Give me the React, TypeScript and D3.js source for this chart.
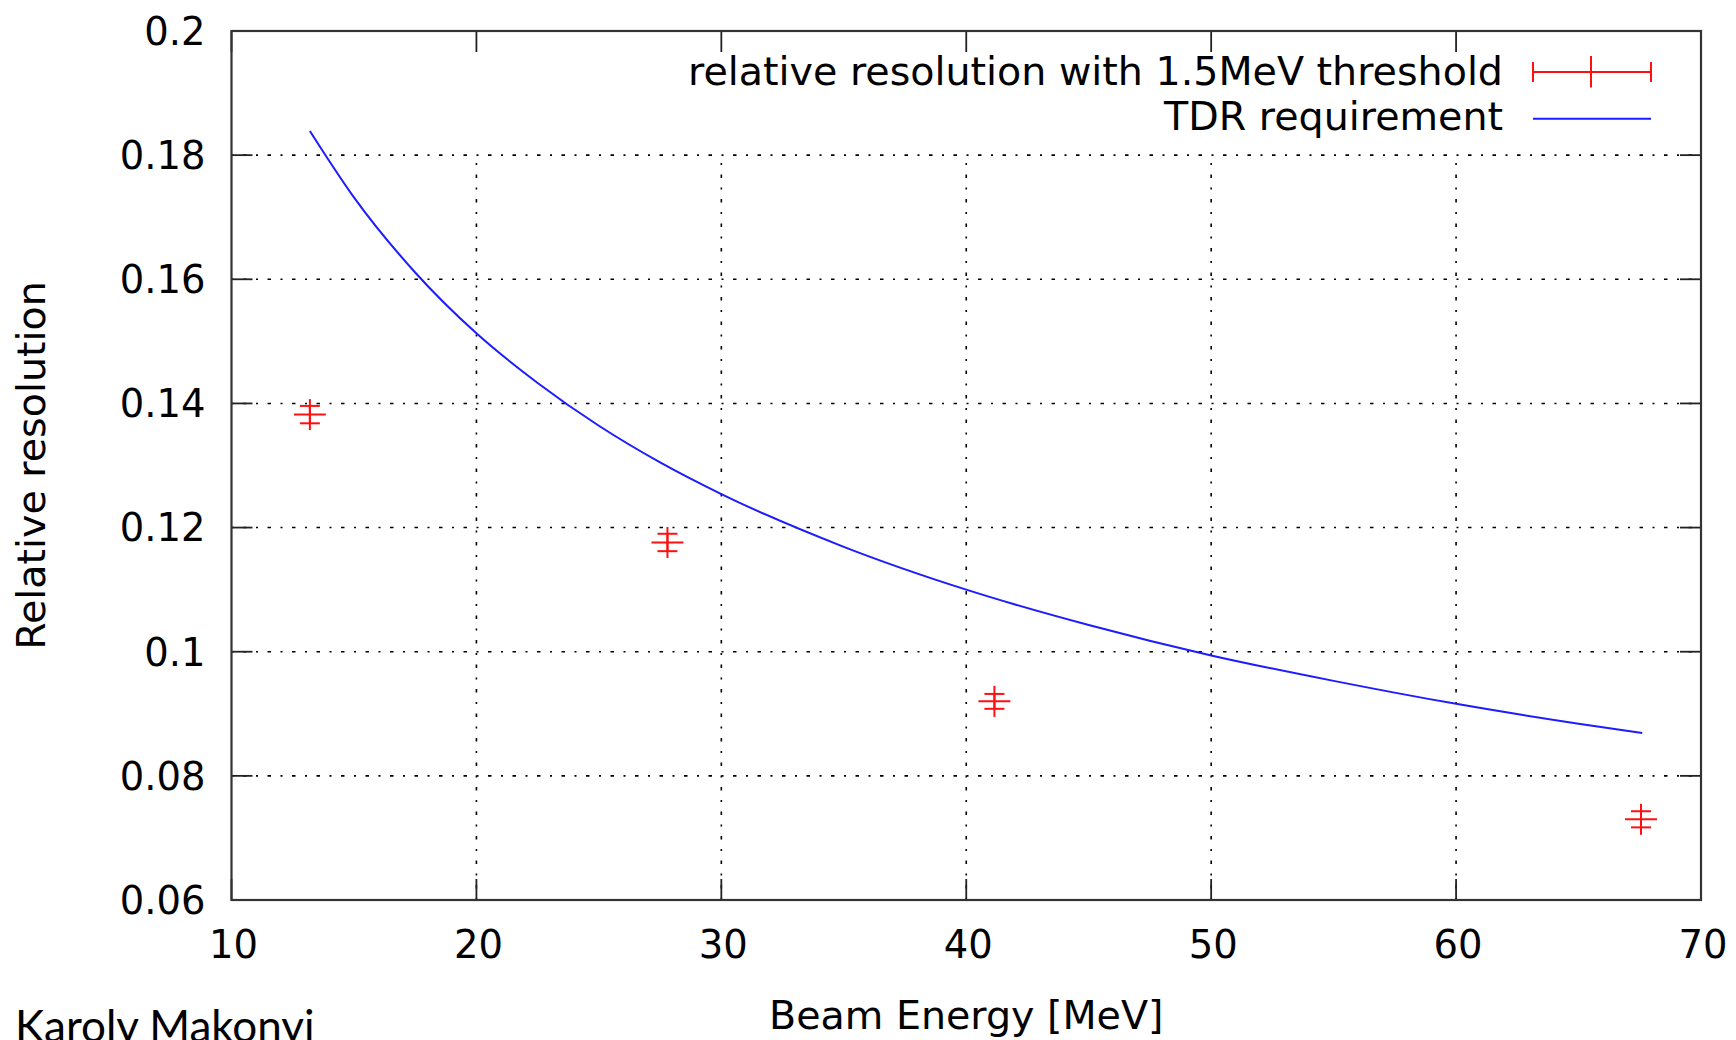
import React from 'react';
import * as d3 from 'd3';

// measured points (beam energy in MeV, relative resolution, error)
const beamEnergy = [13.2, 27.8, 41.15, 67.55];
const resolution = [0.1382, 0.1176, 0.092, 0.073];
const resolutionErr = [0.0014, 0.0014, 0.0012, 0.0013];

// TDR requirement curve
const tdrEnergy = [13.2, 15, 17.5, 20, 22.5, 25, 27.5, 30, 35, 40, 45, 50, 55, 60, 65, 67.6];
const tdrValue = [0.1839, 0.1732, 0.1611, 0.1513, 0.1433, 0.1364, 0.1305, 0.1254, 0.1169, 0.11, 0.1043, 0.0994, 0.0953, 0.0916, 0.0884, 0.0869];

const xTicks = [10, 20, 30, 40, 50, 60, 70];
const yTicks = [0.06, 0.08, 0.1, 0.12, 0.14, 0.16, 0.18, 0.2];

const legendLabels = ['relative resolution with 1.5MeV threshold', 'TDR requirement'];

const W = 1736;
const H = 1040;
const margin = { top: 31, right: 35, bottom: 140, left: 231.5 };

const App = () => {
    const x = d3.scaleLinear().domain([10, 70]).range([margin.left, W - margin.right]);
    const y = d3.scaleLinear().domain([0.06, 0.2]).range([H - margin.bottom, margin.top]);

    const x0 = x.range()[0], x1 = x.range()[1];
    const y0 = y.range()[0], y1 = y.range()[1];
    const tickLen = 21;
    const font = "'DejaVu Sans', sans-serif";
    const gridDash = '2,9.5,3.5,9.5';
    const labelSize = 39.6;

    const line = d3.line<number>()
        .x((d, i) => x(tdrEnergy[i]))
        .y(d => y(d))
        .curve(d3.curveMonotoneX);

    const red = '#ff1010';
    const blue = '#1c1cff';

    return (
        <svg width={W} height={H} style={{ position: 'absolute', left: 0, top: 0, background: '#fff' }}>
            {/* grid */}
            {yTicks.slice(1, -1).map(t => (
                <line key={'gy' + t} x1={x0} x2={x1} y1={y(t)} y2={y(t)}
                    stroke="#000" strokeWidth={1.6} strokeDasharray={gridDash} />
            ))}
            {xTicks.slice(1, -1).map(t => (
                <line key={'gx' + t} x1={x(t)} x2={x(t)} y1={y0} y2={y(0.18)}
                    stroke="#000" strokeWidth={1.6} strokeDasharray={gridDash} />
            ))}

            {/* ticks on all four sides */}
            {yTicks.map(t => (
                <g key={'ty' + t} stroke="#222" strokeWidth={1.8}>
                    <line x1={x0} x2={x0 + tickLen} y1={y(t)} y2={y(t)} />
                    <line x1={x1} x2={x1 - tickLen} y1={y(t)} y2={y(t)} />
                </g>
            ))}
            {xTicks.map(t => (
                <g key={'tx' + t} stroke="#222" strokeWidth={1.8}>
                    <line x1={x(t)} x2={x(t)} y1={y0} y2={y0 - tickLen} />
                    <line x1={x(t)} x2={x(t)} y1={y1} y2={y1 + tickLen} />
                </g>
            ))}

            {/* frame */}
            <rect x={x0} y={y1} width={x1 - x0} height={y0 - y1} fill="none" stroke="#333" strokeWidth={2.2} />

            {/* tick labels */}
            {yTicks.map(t => (
                <text key={'ly' + t} x={x0 - 26} y={y(t)} dy="0.36em" textAnchor="end"
                    fontFamily={font} fontSize={38.5} fill="#000">{d3.format('~g')(t)}</text>
            ))}
            {xTicks.map(t => (
                <text key={'lx' + t} x={x(t) + 2} y={y0 + 44} dy="0.36em" textAnchor="middle"
                    fontFamily={font} fontSize={38.5} fill="#000">{t}</text>
            ))}

            {/* axis titles */}
            <text x={(x0 + x1) / 2} y={1015} dy="0.36em" textAnchor="middle"
                fontFamily={font} fontSize={labelSize} fill="#000">Beam Energy [MeV]</text>
            <text transform={`translate(31,${(y0 + y1) / 2}) rotate(-90)`} dy="0.36em" textAnchor="middle"
                fontFamily={font} fontSize={labelSize} fill="#000">Relative resolution</text>

            {/* TDR requirement */}
            <path d={line(tdrValue) || ''} fill="none" stroke={blue} strokeWidth={2} />

            {/* measured points with y error bars */}
            {beamEnergy.map((e, i) => {
                const cx = x(e);
                const cy = y(resolution[i]);
                const top = y(resolution[i] + resolutionErr[i]);
                const bot = y(resolution[i] - resolutionErr[i]);
                return (
                    <g key={'p' + i} stroke={red} strokeWidth={2}>
                        <line x1={cx} x2={cx} y1={cy - 15.5} y2={cy + 15.5} />
                        <line x1={cx - 16} x2={cx + 16} y1={cy} y2={cy} />
                        <line x1={cx - 10} x2={cx + 10} y1={top} y2={top} />
                        <line x1={cx - 10} x2={cx + 10} y1={bot} y2={bot} />
                        <line x1={cx} x2={cx} y1={top} y2={bot} />
                    </g>
                );
            })}

            {/* legend */}
            <g>
                <text x={1503} y={71} dy="0.36em" textAnchor="end" fontFamily={font} fontSize={labelSize} fill="#000">{legendLabels[0]}</text>
                <g stroke={red} strokeWidth={2}>
                    <line x1={1533} x2={1651} y1={72} y2={72} />
                    <line x1={1533} x2={1533} y1={62} y2={82} />
                    <line x1={1651} x2={1651} y1={62} y2={82} />
                    <line x1={1591} x2={1591} y1={56} y2={87.5} />
                </g>
                <text x={1503} y={116} dy="0.36em" textAnchor="end" fontFamily={font} fontSize={labelSize} fill="#000">{legendLabels[1]}</text>
                <line x1={1533} x2={1651} y1={118.7} y2={118.7} stroke={blue} strokeWidth={2} />
            </g>

            {/* author */}
            <text x={15} y={1042} fontFamily="Lato, 'Open Sans', sans-serif" fontSize={44} fill="#000">Karoly Makonyi</text>
        </svg>
    );
};

export default App;
